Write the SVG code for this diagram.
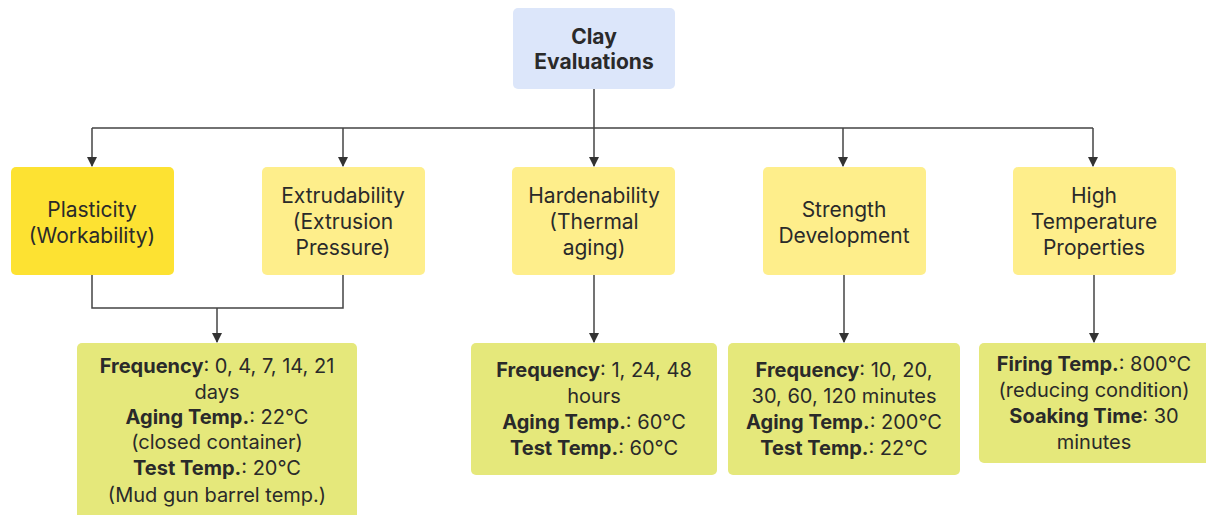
<svg xmlns="http://www.w3.org/2000/svg" width="1206" height="515" viewBox="0 0 1206 515">
<defs>
<marker id="arr" viewBox="0 0 10 10" refX="9" refY="5" markerWidth="10" markerHeight="10" markerUnits="userSpaceOnUse" orient="auto">
<path d="M0,0 L10,5 L0,10 z" fill="#333"/>
</marker>
<style>
text{font-family:Inter,"Noto Sans",sans-serif;font-size:21px;fill:#2a2a2a;text-anchor:middle}
.d text{font-size:20px}
.b{font-weight:700}
.c{fill:none;stroke:#444;stroke-width:1.5}
.top{fill:#dce6fa}
.hi{fill:#fde232}
.mid{fill:#feee8b}
.det{fill:#e5e87b}
</style>
</defs>
<rect width="1206" height="515" fill="#fff"/>
<g id="connectors">
<path class="c" d="M594,89 V128 M92,128 H1093"/>
<path class="c" d="M92,128 V166" marker-end="url(#arr)"/>
<path class="c" d="M343,128 V166" marker-end="url(#arr)"/>
<path class="c" d="M594,128 V166" marker-end="url(#arr)"/>
<path class="c" d="M843,128 V166" marker-end="url(#arr)"/>
<path class="c" d="M1093,128 V166" marker-end="url(#arr)"/>
<path class="c" d="M92,275 V308 H343 V275"/>
<path class="c" d="M217,308 V342" marker-end="url(#arr)"/>
<path class="c" d="M594,275 V342" marker-end="url(#arr)"/>
<path class="c" d="M844,275 V342" marker-end="url(#arr)"/>
<path class="c" d="M1094,275 V342" marker-end="url(#arr)"/>
</g>
<g id="clay">
<rect class="top" x="513" y="8" width="162" height="81" rx="5"/>
<text class="b" x="594" y="44">Clay</text>
<text class="b" x="594" y="69">Evaluations</text>
</g>
<g id="plasticity">
<rect class="hi" x="11" y="167" width="163" height="108" rx="5"/>
<text x="92" y="217">Plasticity</text>
<text x="92" y="243">(Workability)</text>
</g>
<g id="extrudability">
<rect class="mid" x="262" y="167" width="163" height="108" rx="5"/>
<text x="343" y="203">Extrudability</text>
<text x="343" y="229">(Extrusion</text>
<text x="343" y="255">Pressure)</text>
</g>
<g id="hardenability">
<rect class="mid" x="512" y="167" width="163" height="108" rx="5"/>
<text x="594" y="203">Hardenability</text>
<text x="594" y="229">(Thermal</text>
<text x="594" y="255">aging)</text>
</g>
<g id="strength">
<rect class="mid" x="763" y="167" width="163" height="108" rx="5"/>
<text x="844" y="217">Strength</text>
<text x="844" y="243">Development</text>
</g>
<g id="hightemp">
<rect class="mid" x="1013" y="167" width="163" height="108" rx="5"/>
<text x="1094" y="203">High</text>
<text x="1094" y="229">Temperature</text>
<text x="1094" y="255">Properties</text>
</g>
<g id="details1" class="d">
<rect class="det" x="77" y="343" width="280" height="180" rx="5"/>
<text x="217" y="373"><tspan class="b">Frequency</tspan>: 0, 4, 7, 14, 21</text>
<text x="217" y="399">days</text>
<text x="217" y="424"><tspan class="b">Aging Temp.</tspan>: 22°C</text>
<text x="217" y="449">(closed container)</text>
<text x="217" y="475"><tspan class="b">Test Temp.</tspan>: 20°C</text>
<text x="217" y="502">(Mud gun barrel temp.)</text>
</g>
<g id="details2" class="d">
<rect class="det" x="471" y="343" width="246" height="132" rx="5"/>
<text x="594" y="377"><tspan class="b">Frequency</tspan>: 1, 24, 48</text>
<text x="594" y="403">hours</text>
<text x="594" y="429"><tspan class="b">Aging Temp.</tspan>: 60°C</text>
<text x="594" y="455"><tspan class="b">Test Temp.</tspan>: 60°C</text>
</g>
<g id="details3" class="d">
<rect class="det" x="728" y="343" width="232" height="132" rx="5"/>
<text x="844" y="377"><tspan class="b">Frequency</tspan>: 10, 20,</text>
<text x="844" y="403">30, 60, 120 minutes</text>
<text x="844" y="429"><tspan class="b">Aging Temp.</tspan>: 200°C</text>
<text x="844" y="455"><tspan class="b">Test Temp.</tspan>: 22°C</text>
</g>
<g id="details4" class="d">
<rect class="det" x="979" y="343" width="235" height="120" rx="5"/>
<text x="1094" y="371"><tspan class="b">Firing Temp.</tspan>: 800°C</text>
<text x="1094" y="397">(reducing condition)</text>
<text x="1094" y="423"><tspan class="b">Soaking Time</tspan>: 30</text>
<text x="1094" y="449">minutes</text>
</g>
</svg>
